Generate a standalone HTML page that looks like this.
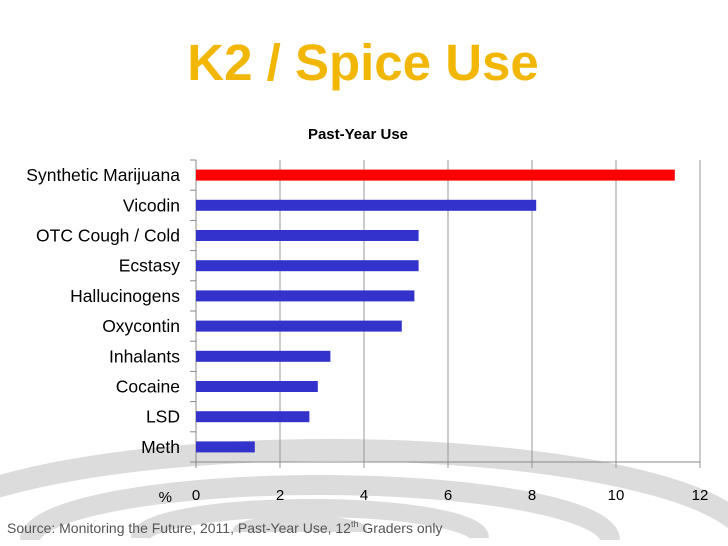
<!DOCTYPE html>
<html><head><meta charset="utf-8"><style>
html,body{margin:0;width:728px;height:546px;background:#fff;overflow:hidden;font-family:"Liberation Sans",sans-serif}
svg{display:block}
</style></head><body>
<svg width="728" height="546" viewBox="0 0 728 546">
<g fill="none" stroke="#dcdcdc">
<path d="M -90 545 A 420 95 0 0 1 750 545" stroke-width="22"/>
<path d="M 30 540 A 290 55 0 0 1 610 540" stroke-width="20"/>
<path d="M 140 538 A 170 30 0 0 1 480 538" stroke-width="18"/>
<path d="M 235 530 A 65 13 0 0 1 365 530 Z" fill="#dcdcdc" stroke-width="4"/>
</g>
<text x="363" y="80" text-anchor="middle" font-size="51" font-weight="bold" fill="#f2b705">K2 / Spice Use</text>
<text x="358" y="139" text-anchor="middle" font-size="15" font-weight="bold" fill="#000">Past-Year Use</text>
<g id="grid"></g><g id="bars"></g><g id="labels"></g><g id="xt"></g>
<text x="172" y="502" text-anchor="end" font-size="15">%</text>
<text x="7" y="533" font-size="14" fill="#555">Source: Monitoring the Future, 2011, Past-Year Use, 12<tspan font-size="9" dy="-6">th</tspan><tspan dy="6"> Graders only</tspan></text>
</svg>
<script>
const categories=["Synthetic Marijuana","Vicodin","OTC Cough / Cold","Ecstasy","Hallucinogens","Oxycontin","Inhalants","Cocaine","LSD","Meth"];
const values=[11.4,8.1,5.3,5.3,5.2,4.9,3.2,2.9,2.7,1.4];
const ticks=[0,2,4,6,8,10,12];
const NS="http://www.w3.org/2000/svg";
const X0=196,X1=700,Y0=160,Y1=462,MAX=12;
const x=v=>X0+(X1-X0)*v/MAX;
const band=(Y1-Y0)/categories.length;
const y=i=>Y0+band*(i+0.5);
function mk(t,a,p){const e=document.createElementNS(NS,t);for(const k in a)e.setAttribute(k,a[k]);document.getElementById(p).appendChild(e);return e;}
ticks.forEach(t=>{
 const g=mk("line",{x1:x(t),x2:x(t),y1:Y0,y2:Y1+6,stroke:t===0?"#888":"#999","stroke-width":1},"grid");
 
 
 const l=mk("text",{x:x(t),y:500,"text-anchor":"middle","font-size":15,fill:"#000"},"xt");
 l.textContent=t;
 
 
});
const ax=mk("line",{x1:X0,x2:X1,y1:Y1,y2:Y1,stroke:"#888"},"grid");


for(let i=0;i<=categories.length;i++){
 const tk=mk("line",{x1:X0-6,x2:X0,y1:Y0+band*i,y2:Y0+band*i,stroke:"#888"},"grid");
 
 
}
categories.forEach((c,i)=>{
 const b=mk("rect",{x:X0,y:y(i)-5.5,width:x(values[i])-X0,height:11,fill:i===0?"#ff0000":"#3333cc"},"bars");
 
 
 const t=mk("text",{x:180,y:y(i)+6,"text-anchor":"end","font-size":17.5,fill:"#000"},"labels");
 t.textContent=c;
 
 
});
</script>
</body></html>
